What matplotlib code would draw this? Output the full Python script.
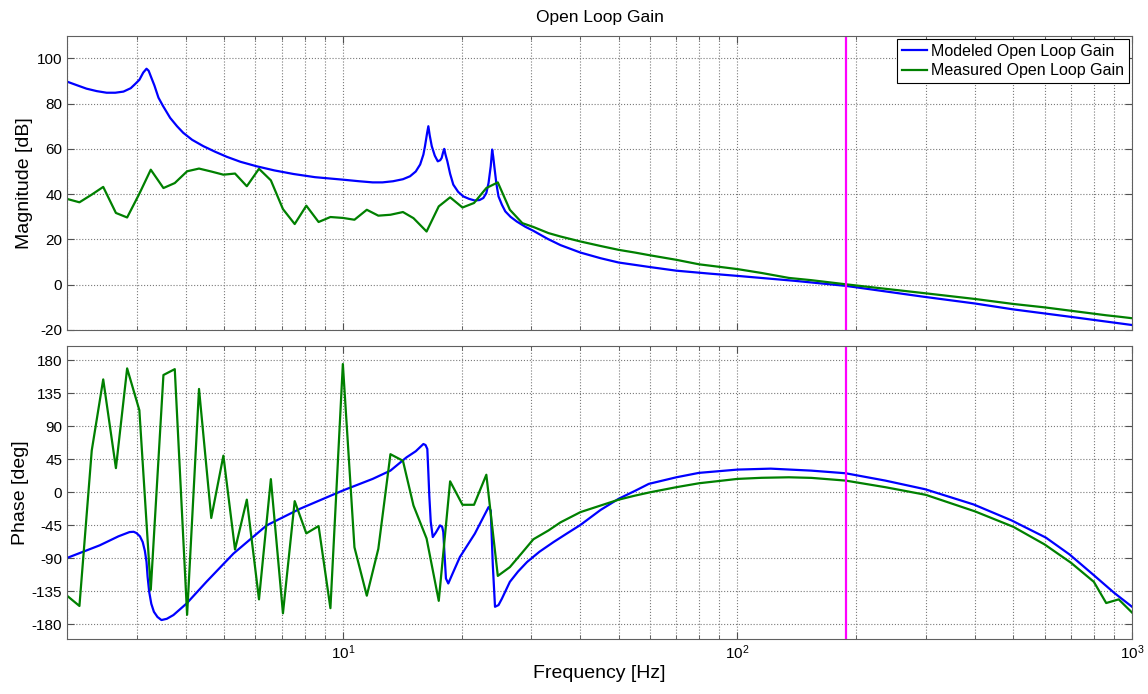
import matplotlib
matplotlib.use('Agg')
import matplotlib.pyplot as plt
from matplotlib.ticker import LogLocator, NullFormatter

plt.rcParams['font.family'] = ['Liberation Sans', 'DejaVu Sans']
plt.rcParams['axes.unicode_minus'] = False

# modeled open loop magnitude
f_model_mag = [2.0, 2.12, 2.24, 2.38, 2.52, 2.65, 2.78, 2.9, 2.97, 3.05, 3.12, 3.18,
               3.22, 3.27, 3.33, 3.41, 3.5, 3.65, 3.8, 3.94, 4.15, 4.43, 4.75, 5.08,
               5.5, 6.05, 6.7, 7.5, 8.5, 10.0, 11.0, 11.9, 12.6, 13.4, 14.2, 14.8,
               15.3, 15.7, 16.0, 16.15, 16.35, 16.47, 16.6, 16.8, 17.1, 17.4, 17.65,
               17.8, 17.95, 18.07, 18.2, 18.4, 18.7, 19.05, 19.6, 20.2, 20.9, 21.6,
               22.2, 22.7, 23.1, 23.4, 23.7, 23.9, 24.05, 24.2, 24.5, 24.8, 25.3,
               25.8, 26.6, 27.6, 29.0, 30.4, 33.0, 35.6, 40.0, 45.0, 50.0, 60.0,
               70.0, 85.0, 100.0, 140.0, 188.0, 296.0, 400.0, 500.0, 700.0, 1000.0]
model_mag = [89.7, 88.1, 86.6, 85.5, 84.8, 84.8, 85.3, 86.8, 88.5, 90.5, 93.7, 95.4,
             94.5, 91.5, 88.0, 82.6, 79.0, 73.7, 70.0, 67.1, 64.0, 61.2, 58.7, 56.5,
             54.3, 52.3, 50.5, 48.9, 47.5, 46.4, 45.7, 45.2, 45.2, 45.7, 46.6, 47.9,
             50.0, 53.1, 57.5, 61.2, 67.0, 70.0, 66.0, 61.2, 57.0, 54.5, 55.0,
             56.0, 58.5, 60.0, 57.5, 54.5, 49.0, 44.2, 41.0, 39.0, 37.9, 37.2,
             37.4, 38.3, 40.5, 44.9, 52.3, 59.7, 56.5, 52.3, 44.5, 39.0, 35.3,
             32.4, 30.0, 27.9, 25.6, 23.8, 20.3, 17.5, 14.2, 11.7, 9.8, 7.8,
             6.2, 4.9, 3.9, 1.7, -0.5, -5.3, -8.3, -10.9, -14.2, -17.8]

# modeled open loop phase
f_model_ph = [2.0, 2.42, 2.7, 2.88, 2.95, 3.0, 3.06, 3.11, 3.15, 3.18, 3.2, 3.23,
              3.27, 3.32, 3.39, 3.47, 3.58, 3.72, 4.02, 4.51, 5.28, 6.41, 7.79, 10.0,
              11.9, 13.2, 14.5, 15.3, 16.0, 16.2, 16.37, 16.46, 16.56, 16.7, 16.9,
              17.2, 17.63, 17.85, 17.97, 18.1, 18.25, 18.5, 19.0, 19.8, 21.6, 23.4,
              23.7, 23.99, 24.3, 24.8, 25.3, 26.5, 27.8, 29.3, 31.5, 34.2, 37.0,
              40.0, 45.0, 50.0, 55.0, 59.6, 70.0, 79.8, 100.0, 121.4, 153.8, 188.0,
              237.0, 299.0, 397.0, 495.0, 605.0, 695.0, 800.0, 901.0, 1000.0]
model_ph = [-89.5, -72.3, -60.0, -54.2, -53.8, -55.6, -60.0, -67.8, -80.0, -95.0,
            -115.0, -135.7, -152.0, -162.9, -170.0, -174.2, -172.5, -167.4, -151.5,
            -122.1, -83.6, -45.1, -22.4, 2.5, 18.3, 29.6, 47.7, 56.0, 65.9, 64.5,
            59.1, 30.0, -4.4, -40.0, -61.0, -55.0, -45.1, -47.0, -54.2, -85.0,
            -117.5, -124.3, -110.0, -88.2, -56.4, -20.2, -24.7, -99.4, -156.1,
            -153.8, -145.0, -122.1, -108.0, -95.0, -81.0, -67.8, -56.0, -44.5,
            -24.0, -8.8, 2.0, 11.5, 20.5, 26.5, 31.0, 32.3, 29.6, 26.0, 16.0, 4.2,
            -16.6, -38.3, -61.8, -84.9, -113.0, -137.1, -156.1]

# measured data, sampled points
f_meas = [2.0, 2.15, 2.31, 2.47, 2.66, 2.84, 3.05, 3.26, 3.51, 3.75, 4.03, 4.32,
          4.64, 4.98, 5.33, 5.71, 6.13, 6.57, 7.05, 7.55, 8.08, 8.68, 9.3, 10.0,
          10.7, 11.5, 12.3, 13.2, 14.2, 15.1, 16.3, 17.5, 18.7, 20.1, 21.5, 23.1,
          24.7, 26.5, 28.5, 30.4, 33.2, 35.6, 40.0, 45.0, 50.0, 55.0, 60.0, 70.0,
          80.0, 90.0, 100.0, 115.0, 135.0, 154.0, 188.0, 237.0, 300.0, 400.0,
          500.0, 600.0, 700.0, 800.0, 860.0, 925.0, 1000.0]
meas_mag = [37.9, 36.4, 39.8, 43.2, 31.7, 29.7, 40.2, 50.8, 42.7, 44.9, 50.1, 51.3,
            50.0, 48.6, 49.1, 43.5, 51.2, 46.1, 33.4, 26.8, 34.9, 27.7, 29.9, 29.5,
            28.7, 33.1, 30.5, 30.9, 32.1, 29.4, 23.5, 34.6, 38.6, 34.1, 36.1, 42.7,
            45.2, 33.1, 27.2, 25.5, 22.8, 21.3, 19.1, 17.1, 15.4, 14.2, 13.0, 11.0,
            9.0, 7.9, 6.9, 5.2, 3.0, 2.0, 0.2, -1.8, -3.8, -6.3,
            -8.5, -10.0, -11.5, -12.8, -13.5, -14.1, -14.8]
meas_ph = [-141, -155, 57, 154, 33, 169, 112, -133, 160, 168, -167, 141,
           -35, 50, -78, -10, -146, 18, -165, -12, -56, -46, -158, 175,
           -75, -141, -77, 52, 43, -18, -63, -148, 15, -17, -17, 24,
           -114, -102, -82, -64, -52, -41, -27, -18, -10, -4.5, 0, 7,
           12.4, 15.5, 18.3, 19.8, 20.5, 19.7, 16, 7, -3.4, -26,
           -47, -71, -96, -122, -151, -146, -164]

f_cross = 188.0
mag_ticks = [-20, 0, 20, 40, 60, 80, 100]
ph_ticks = [-180, -135, -90, -45, 0, 45, 90, 135, 180]

blue = '#0000ff'
green = '#008000'
magenta = '#ff00ff'
grid_kw = dict(color='#7a7a7a', linestyle=':', linewidth=0.8)

fig = plt.figure(figsize=(11.48, 6.94), dpi=100)
ax1 = fig.add_axes([0.0584, 0.5245, 0.9277, 0.4241])
ax2 = fig.add_axes([0.0584, 0.0793, 0.9277, 0.4226])

ax1.semilogx(f_model_mag, model_mag, color=blue, lw=1.6, label='Modeled Open Loop Gain')
ax1.semilogx(f_meas, meas_mag, color=green, lw=1.6, label='Measured Open Loop Gain')
ax1.axvline(f_cross, color=magenta, lw=1.6)

ax2.semilogx(f_model_ph, model_ph, color=blue, lw=1.6)
ax2.semilogx(f_meas, meas_ph, color=green, lw=1.6)
ax2.axvline(f_cross, color=magenta, lw=1.6)

ax1.set_ylim(-20, 110)
ax1.set_yticks(mag_ticks)
ax2.set_ylim(-200, 200)
ax2.set_yticks(ph_ticks)

for ax in (ax1, ax2):
    ax.set_xlim(2, 1000)
    ax.xaxis.set_major_locator(LogLocator(base=10))
    ax.xaxis.set_minor_locator(LogLocator(base=10, subs=range(2, 10)))
    ax.xaxis.set_minor_formatter(NullFormatter())
    ax.grid(True, which='major', **grid_kw)
    ax.grid(True, which='minor', axis='x', **grid_kw)
    ax.tick_params(which='both', direction='in', top=True, right=True,
                   color='#505050', labelsize=11)
    ax.tick_params(which='major', length=5)
    ax.tick_params(which='minor', length=3)
    for s in ax.spines.values():
        s.set_color('#606060')
        s.set_linewidth(0.8)

ax1.tick_params(axis='x', labelbottom=False)

ax1.set_title('Open Loop Gain', fontsize=12.5, pad=10)
ax1.set_ylabel('Magnitude [dB]', fontsize=14)
ax1.yaxis.set_label_coords(-0.032, 0.5)
ax2.set_ylabel('Phase [deg]', fontsize=14)
ax2.yaxis.set_label_coords(-0.036, 0.5)
ax2.set_xlabel('Frequency [Hz]', fontsize=14, labelpad=2)

leg = ax1.legend(loc='upper right', fontsize=11.5, fancybox=False, framealpha=1,
                 edgecolor='black', borderaxespad=0.2, handlelength=1.6,
                 handletextpad=0.25, labelspacing=0.3, borderpad=0.3)
leg.get_frame().set_linewidth(0.8)

fig.savefig('out.png', dpi=100)
